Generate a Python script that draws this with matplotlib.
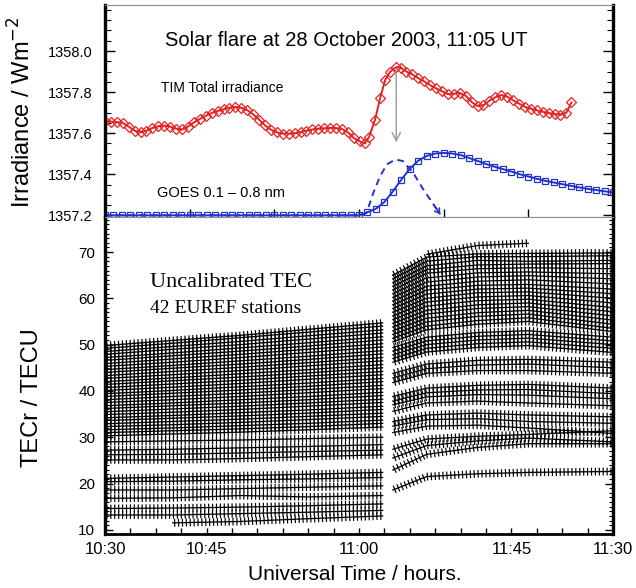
import numpy as np
import matplotlib
matplotlib.use('Agg')
import matplotlib.pyplot as plt
from matplotlib import patheffects as pe
from matplotlib.ticker import MultipleLocator

plt.rcParams['font.family'] = ['Liberation Sans', 'DejaVu Sans']

nan = np.nan

# czas w minutach od 10:30 UT
# TIM total irradiance (W/m2)
tim_t = [0.0, 0.7, 1.4, 2.1, 2.8, 3.5, 4.2, 4.9, 5.6, 6.3, 7.0, 7.7, 8.4, 9.1, 9.8,
         10.5, 11.2, 11.9, 12.6, 13.3, 14.0, 14.7, 15.4, 16.1, 16.8, 17.5, 18.2,
         18.9, 19.6, 20.3, 21.0, 21.7, 22.4, 23.1, 23.8, 24.5, 25.2, 25.9, 26.6,
         27.3, 28.0, 28.7, 29.4, 30.1, 30.7, 31.2, 31.9, 32.5, 33.1, 33.7, 34.4,
         35.0, 35.6, 36.3, 37.0, 37.7, 38.4, 39.1, 39.8, 40.5, 41.2, 41.9, 42.6,
         43.3, 44.0, 44.7, 45.4, 46.1, 46.8, 47.5, 48.2, 48.9, 49.6, 50.3, 51.0,
         51.7, 52.4, 53.1, 53.8, 54.5, 55.1]
tim_v = [1357.658, 1357.656, 1357.654, 1357.650, 1357.632, 1357.612, 1357.604,
         1357.612, 1357.625, 1357.634, 1357.637, 1357.632, 1357.622, 1357.618,
         1357.632, 1357.652, 1357.669, 1357.684, 1357.698, 1357.708, 1357.716,
         1357.724, 1357.728, 1357.724, 1357.712, 1357.692, 1357.666, 1357.638,
         1357.617, 1357.604, 1357.598, 1357.598, 1357.600, 1357.605, 1357.612,
         1357.618, 1357.622, 1357.624, 1357.626, 1357.625, 1357.620, 1357.604,
         1357.576, 1357.560, 1357.550, 1357.582, 1357.666, 1357.771, 1357.860,
         1357.900, 1357.922, 1357.917, 1357.900, 1357.886, 1357.868, 1357.852,
         1357.834, 1357.818, 1357.804, 1357.790, 1357.792, 1357.796, 1357.782,
         1357.752, 1357.732, 1357.736, 1357.758, 1357.775, 1357.786, 1357.778,
         1357.760, 1357.744, 1357.728, 1357.719, 1357.711, 1357.704, 1357.698,
         1357.693, 1357.690, 1357.700, 1357.750]

# GOES 0.1-0.8 nm (przeskalowane)
goes_t = list(range(61))
goes_v = [1357.2, 1357.2, 1357.2, 1357.2, 1357.2, 1357.2, 1357.2, 1357.2, 1357.2,
          1357.2, 1357.2, 1357.2, 1357.2, 1357.2, 1357.2, 1357.2, 1357.2, 1357.2,
          1357.2, 1357.2, 1357.2, 1357.2, 1357.2, 1357.2, 1357.2, 1357.2, 1357.2,
          1357.2, 1357.2, 1357.2, 1357.2,
          1357.215, 1357.232, 1357.265, 1357.316, 1357.374, 1357.426, 1357.466,
          1357.489, 1357.501, 1357.504, 1357.501, 1357.494, 1357.479, 1357.465,
          1357.450, 1357.437, 1357.425, 1357.413, 1357.400, 1357.389, 1357.378,
          1357.368, 1357.360, 1357.352, 1357.344, 1357.336, 1357.329, 1357.323,
          1357.317, 1357.312]

# krzywa przerywana (pochodna GOES)
deriv_t = [0, 30.4, 30.9, 31.7, 32.5, 33.3, 34.3, 35.2, 36.4, 37.6, 38.8, 39.6]
deriv_v = [1357.2, 1357.2, 1357.213, 1357.31, 1357.391, 1357.448, 1357.472,
           1357.464, 1357.407, 1357.326, 1357.253, 1357.205]

# strzalka od maksimum TIM
arrow_t = 34.4
arrow_v = [1357.915, 1357.555]

top_yticks = [1357.2, 1357.4, 1357.6, 1357.8, 1358.0]

# TEC dla 42 stacji EUREF: przed i po rozblysku
tec_pre_t = [0, 8, 16, 24, 32.8]
tec_post_t = [34.0, 38, 44, 50, 60]
tec_pre = [
    [49.8, 50.9, 52.0, 53.3, 54.7],
    [49.2, 50.3, 51.5, 52.7, 54.0],
    [48.5, 49.6, 50.7, 51.9, 53.2],
    [47.9, 49.0, 50.0, 51.2, 52.5],
    [47.2, 48.2, 49.3, 50.4, 51.7],
    [46.6, 47.6, 48.6, 49.7, 51.0],
    [45.9, 46.9, 47.9, 49.0, 50.2],
    [45.3, 46.2, 47.2, 48.3, 49.5],
    [44.6, 45.5, 46.5, 47.5, 48.7],
    [44.0, 44.9, 45.8, 46.8, 48.0],
    [43.3, 44.2, 45.1, 46.1, 47.2],
    [42.7, 43.5, 44.4, 45.4, 46.5],
    [42.0, 42.8, 43.7, 44.6, 45.7],
    [41.4, 42.2, 43.0, 43.9, 45.0],
    [40.7, 41.5, 42.3, 43.2, 44.2],
    [40.1, 40.8, 41.6, 42.5, 43.5],
    [39.4, 40.1, 40.9, 41.7, 42.7],
    [38.8, 39.5, 40.2, 41.0, 42.0],
    [38.1, 38.8, 39.5, 40.3, 41.2],
    [37.5, 38.1, 38.8, 39.6, 40.5],
    [36.8, 37.4, 38.1, 38.8, 39.7],
    [36.2, 36.8, 37.4, 38.1, 39.0],
    [35.5, 36.1, 36.7, 37.4, 38.2],
    [34.9, 35.4, 36.0, 36.7, 37.5],
    [34.2, 34.7, 35.3, 35.9, 36.7],
    [33.6, 34.1, 34.6, 35.2, 36.0],
    [32.9, 33.4, 33.9, 34.5, 35.2],
    [32.3, 32.7, 33.2, 33.8, 34.5],
    [31.6, 32.0, 32.5, 33.0, 33.7],
    [31.0, 31.4, 31.8, 32.3, 33.0],
    [30.3, 30.7, 31.1, 31.6, 32.2],
    [29.0, 29.2, 29.4, 29.7, 30.0],
    [27.2, 27.4, 27.7, 28.0, 28.4],
    [26.2, 26.3, 26.6, 26.9, 27.2],
    [25.1, 25.1, 25.4, 25.8, 26.2],
    [21.1, 21.4, 21.7, 22.0, 22.4],
    [20.4, 20.5, 20.8, 21.0, 21.3],
    [18.6, 18.6, 18.9, 19.2, 19.5],
    [16.8, 16.9, 17.4, 17.1, 17.4],
    [14.6, 14.7, 14.9, 15.2, 15.6],
    [13.2, 13.2, 13.5, 13.8, 14.2],
    [nan, 11.5, 11.8, 12.4, 13.0],
]
tec_post = [
    [nan, 69.5, 71.4, 71.9, nan],
    [65.0, 68.9, 69.6, 69.7, 69.8],
    [64.2, 68.0, 69.0, 69.0, 69.2],
    [63.4, 67.0, 68.2, 68.0, 68.2],
    [62.6, 66.2, 67.2, 67.4, 67.5],
    [61.8, 65.4, 66.4, 66.6, 66.4],
    [61.0, 64.4, 65.5, 65.7, 65.3],
    [60.2, 63.5, 64.6, 64.9, 64.2],
    [59.4, 62.6, 63.7, 64.0, 63.1],
    [58.6, 61.8, 62.8, 63.0, 62.0],
    [57.8, 60.9, 62.0, 62.2, 61.0],
    [57.0, 60.0, 61.2, 61.4, 60.0],
    [56.2, 59.2, 60.3, 60.6, 59.0],
    [55.4, 58.3, 59.5, 59.8, 58.0],
    [54.6, 57.4, 58.6, 59.0, 57.1],
    [53.8, 56.6, 57.8, 58.2, 56.2],
    [53.0, 55.7, 56.9, 57.4, 55.3],
    [52.2, 54.9, 56.1, 56.6, 54.4],
    [51.4, 54.0, 55.2, 55.8, 53.5],
    [50.6, 53.2, 54.4, 55.0, 52.8],
    [49.4, 51.6, 52.6, 53.0, 51.6],
    [48.6, 50.8, 51.8, 52.2, 50.8],
    [47.8, 50.0, 51.0, 51.4, 50.0],
    [47.0, 49.2, 50.2, 50.6, 49.2],
    [46.2, 48.4, 49.4, 49.8, 48.3],
    [43.8, 45.8, 46.6, 46.8, 46.2],
    [42.8, 44.8, 45.6, 45.8, 45.0],
    [41.8, 43.8, 44.4, 44.4, 43.8],
    [38.8, 40.6, 41.2, 41.4, 40.6],
    [37.8, 39.6, 40.2, 40.3, 39.4],
    [37.0, 38.7, 39.2, 39.1, 38.3],
    [35.6, 37.4, 37.8, 37.4, 36.8],
    [33.4, 34.8, 35.2, 34.8, 34.4],
    [32.4, 33.8, 34.0, 33.4, 33.0],
    [31.0, 32.4, 32.6, 32.0, 30.8],
    [27.4, 29.6, 30.2, 30.6, 31.4],
    [25.5, 28.2, 29.2, 29.8, 29.0],
    [22.9, 26.3, 27.8, 28.6, 28.6],
    [18.6, 21.5, 22.1, 22.4, 22.6],
    [nan, nan, nan, nan, nan],
    [nan, nan, nan, nan, nan],
    [nan, nan, nan, nan, nan],
]

xtick_pos = [0, 12, 30, 48, 60]
xtick_lab = ['10:30', '10:45', '11:00', '11:45', '11:30']

red = '#e32222'
blue = '#2233cc'
gray = '#8c8c8c'

fig = plt.figure(figsize=(6.36, 5.88), dpi=100)
ax1 = fig.add_axes([0.1651, 0.6310, 0.7987, 0.3605])
ax2 = fig.add_axes([0.1651, 0.0918, 0.7987, 0.5391])

# --- panel gorny: irradiancja ---
ax1.plot(deriv_t, deriv_v, color=blue, lw=1.4, ls=(0, (3.5, 2.5)))
ax1.annotate('', xy=(deriv_t[-1], deriv_v[-1]), xytext=(deriv_t[-2], deriv_v[-2]),
             arrowprops=dict(arrowstyle='->,head_length=0.3,head_width=0.2',
                             color=blue, lw=1.2, shrinkA=0, shrinkB=0))
ax1.plot(goes_t, goes_v, color=blue, lw=1.4, marker='s', ms=5, mfc='none', mew=0.9)
ax1.plot(tim_t, tim_v, color=red, lw=1.4, marker='D', ms=4.8, mfc='none', mew=0.9)
ax1.annotate('', xy=(arrow_t, arrow_v[1]), xytext=(arrow_t, arrow_v[0]),
             arrowprops=dict(arrowstyle='->,head_length=0.6,head_width=0.3',
                             color='#999999', lw=1.0, shrinkA=0, shrinkB=0))

ax1.set_xlim(0, 60)
ax1.set_ylim(1357.192, 1358.224)
ax1.set_yticks(top_yticks, labels=['%.1f' % v for v in top_yticks])
ax1.yaxis.set_minor_locator(MultipleLocator(0.05))
ax1.xaxis.set_major_locator(MultipleLocator(10))
ax1.tick_params(axis='y', which='both', direction='in', left=True, right=True,
                labelsize=10.5, pad=9)
ax1.tick_params(axis='y', which='major', length=7, width=1)
ax1.tick_params(axis='y', which='minor', length=4, width=0.8)
ax1.tick_params(axis='x', which='major', direction='in', bottom=True, top=False,
                labelbottom=False, length=6, width=1)

ax1.text(0.476, 0.835, 'Solar flare at 28 October 2003, 11:05 UT', transform=ax1.transAxes,
         ha='center', va='center', fontsize=14.5)
ax1.text(0.110, 0.608, 'TIM Total irradiance', transform=ax1.transAxes,
         ha='left', va='center', fontsize=10)
ax1.text(0.102, 0.113, 'GOES 0.1 \u2013 0.8 nm', transform=ax1.transAxes,
         ha='left', va='center', fontsize=10.5)

# --- panel dolny: TEC ---
plus_fx = [pe.TickedStroke(angle=90, spacing=2.8, length=0.85, linewidth=0.85),
           pe.TickedStroke(angle=-90, spacing=2.8, length=0.85, linewidth=0.85),
           pe.Normal()]
for pre, post in zip(tec_pre, tec_post):
    for tt, vv in ((tec_pre_t, pre), (tec_post_t, post)):
        tt = np.array(tt, dtype=float)
        vv = np.array(vv, dtype=float)
        ok = np.isfinite(vv)
        if ok.sum() < 2:
            continue
        ax2.plot(tt[ok], vv[ok], color='black', lw=0.9, path_effects=plus_fx)

ax2.set_xlim(0, 60)
ax2.set_ylim(9.09, 77.56)
ax2.yaxis.set_major_locator(MultipleLocator(10))
ax2.yaxis.set_minor_locator(MultipleLocator(1))
ax2.set_xticks(xtick_pos, labels=xtick_lab)
ax2.xaxis.set_minor_locator(MultipleLocator(3))
ax2.tick_params(axis='y', which='both', direction='in', left=True, right=True,
                labelsize=11, pad=7)
ax2.tick_params(axis='y', which='major', length=6, width=1)
ax2.tick_params(axis='y', which='minor', length=3, width=0.8)
ax2.tick_params(axis='x', which='both', direction='in', bottom=True, top=False,
                labelsize=12, pad=6, length=4, width=1)

ax2.text(0.0886, 0.792, 'Uncalibrated TEC', transform=ax2.transAxes, ha='left',
         va='center', fontsize=16, family='Liberation Serif')
ax2.text(0.0886, 0.713, '42 EUREF stations', transform=ax2.transAxes, ha='left',
         va='center', fontsize=14, family='Liberation Serif')

for ax in (ax1, ax2):
    ax.spines['left'].set_linewidth(2.4)
    ax.spines['right'].set_linewidth(2.4)
    ax.spines['top'].set_linewidth(0.8)
    ax.spines['top'].set_color(gray)
ax1.spines['bottom'].set_linewidth(0.8)
ax1.spines['bottom'].set_color(gray)
ax2.spines['bottom'].set_linewidth(2.0)

fig.text(22 / 636, 1 - 112 / 588, 'Irradiance / Wm$^{-2}$', rotation=90,
         ha='center', va='center', fontsize=17)
fig.text(32 / 636, 1 - 398 / 588, 'TECr / TECU', rotation=90,
         ha='center', va='center', fontsize=17)
fig.text(355 / 636, 1 - 575 / 588, 'Universal Time / hours.', ha='center',
         va='center', fontsize=15)

fig.savefig('out.png', dpi=100)
